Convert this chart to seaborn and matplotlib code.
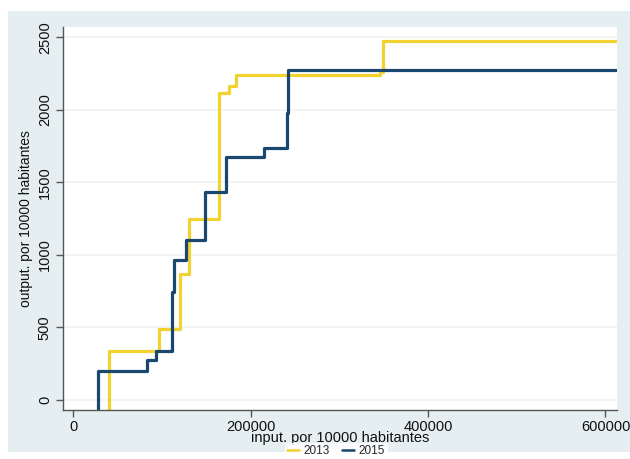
import pandas as pd
import matplotlib.pyplot as plt
import seaborn as sns
from matplotlib.patches import Rectangle

# step points (input, output per 10000 habitantes)
x_2013 = [40900, 40900, 96500, 120200, 131100, 164100, 176200, 183700, 345900, 349600, 620000]
y_2013 = [-100, 340, 490, 869, 1250, 2115, 2163, 2244, 2262, 2474, 2474]

x_2015 = [28500, 28500, 83000, 93500, 111900, 113500, 127700, 148400, 172400, 215200, 241500, 242600, 620000]
y_2015 = [-100, 200, 274, 340, 747, 965, 1101, 1437, 1678, 1740, 1977, 2274, 2274]

years = ['2013', '2015']
colors = {'2013': '#f2d230', '2015': '#1a476f'}

df = pd.concat([
    pd.DataFrame({'input': x_2013, 'output': y_2013, 'year': '2013'}),
    pd.DataFrame({'input': x_2015, 'output': y_2015, 'year': '2015'}),
], ignore_index=True)

sns.set_theme(style='white')
plt.rcParams['font.family'] = ['Liberation Sans', 'DejaVu Sans']

fig = plt.figure(figsize=(6.3, 4.59), dpi=100)
fig.patch.set_facecolor('white')
# light outer panel like the Stata scheme
fig.patches.append(Rectangle((8 / 630, 7 / 459), 622 / 630, 441 / 459,
                             transform=fig.transFigure, facecolor='#e5eef1',
                             edgecolor='none', zorder=-1))

ax = fig.add_axes([63 / 630, 49 / 459, 554 / 630, 383.3 / 459])
ax.set_facecolor('white')

sns.lineplot(data=df, x='input', y='output', hue='year', hue_order=years,
             palette=colors, estimator=None, drawstyle='steps-post',
             linewidth=2.3, ax=ax, legend=False)

ax.set_xlim(-11268, 612958)
ax.set_ylim(-69, 2574)
ax.set_xticks([0, 200000, 400000, 600000])
ax.set_yticks([0, 500, 1000, 1500, 2000, 2500])
ax.set_yticklabels(['0', '500', '1000', '1500', '2000', '2500'],
                   rotation=90, va='center')
ax.grid(axis='y', color='#edf2f4', linewidth=1.2)
ax.set_axisbelow(True)

for s in ['top', 'right']:
    ax.spines[s].set_visible(False)
for s in ['left', 'bottom']:
    ax.spines[s].set_color('#555555')
    ax.spines[s].set_linewidth(1.0)

ax.tick_params(axis='both', which='major', direction='out', length=5,
               width=1, color='#555555', labelsize=10.5, labelcolor='#111111',
               left=True, bottom=True)
ax.tick_params(axis='x', pad=2)
ax.tick_params(axis='y', pad=3)

ax.set_xlabel('input. por 10000 habitantes', fontsize=10.5, color='#111111')
ax.set_ylabel('output. por 10000 habitantes', fontsize=10, color='#111111')
ax.xaxis.set_label_coords(0.5, -0.056)
ax.yaxis.set_label_coords(-0.054, 0.5)

handles = [plt.Line2D([], [], color=colors[y], linewidth=1.8) for y in years]
leg = fig.legend(handles, years, loc='center', bbox_to_anchor=(336 / 630, 8 / 459),
                 ncol=2, frameon=True, fontsize=8.5, handlelength=1.0,
                 handletextpad=0.4, columnspacing=1.0, borderpad=0.15,
                 fancybox=False)
leg.get_frame().set_facecolor('white')
leg.get_frame().set_edgecolor('white')

plt.savefig('out.png', dpi=100)
